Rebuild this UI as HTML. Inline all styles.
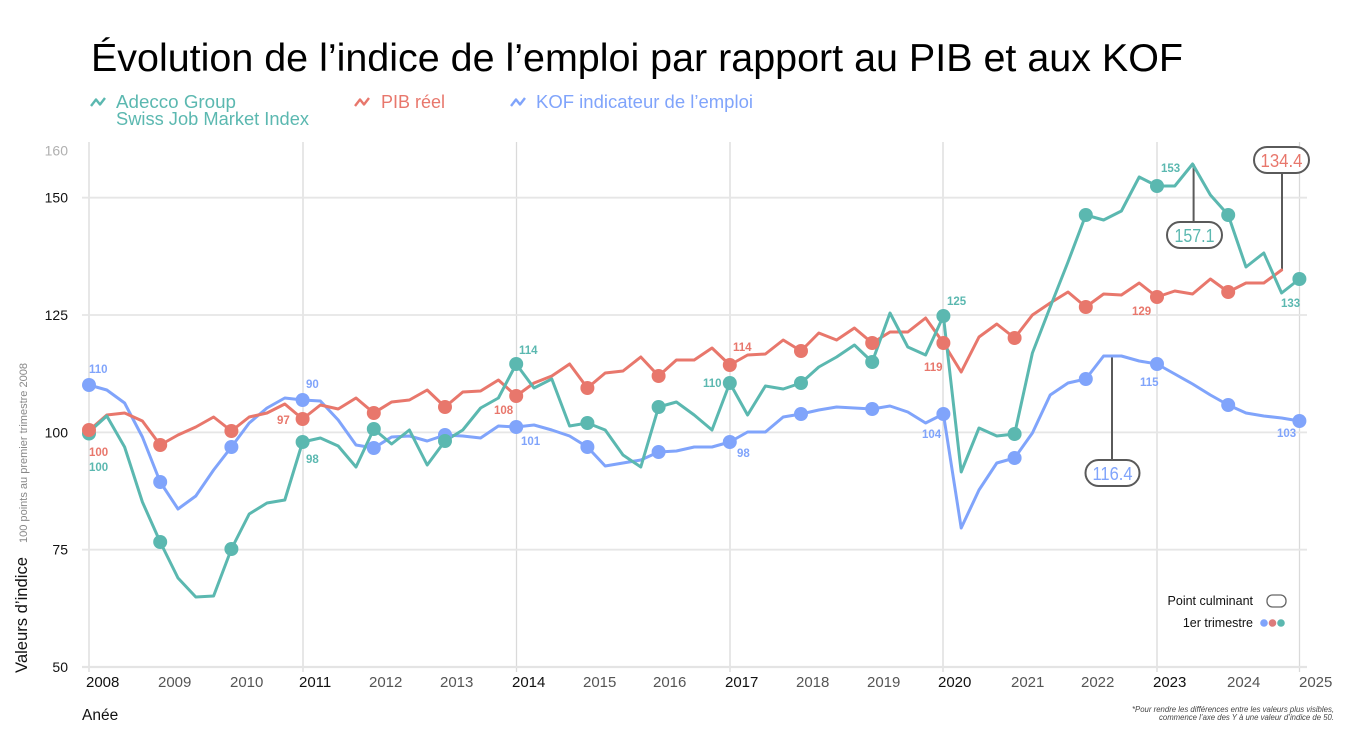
<!DOCTYPE html>
<html>
<head>
<meta charset="utf-8">
<style>
  html,body{margin:0;padding:0;background:#fff;}
  svg{display:block;font-family:"Liberation Sans",Arial,sans-serif;}
</style>
</head>
<body>
<svg width="1351" height="737" viewBox="0 0 1351 737" xmlns="http://www.w3.org/2000/svg">
  <rect width="1351" height="737" fill="#fff"/>

  <!-- Title -->
  <text x="91" y="71" font-size="39" fill="#000" textLength="1092" lengthAdjust="spacingAndGlyphs">Évolution de l’indice de l’emploi par rapport au PIB et aux KOF</text>

  <!-- Top legend -->
  <polyline points="91,106 96,99.5 100,104.5 105,98" fill="none" stroke="#5bb8b0" stroke-width="2.4" stroke-linejoin="round"/>
  <text x="116" y="108" font-size="18" fill="#5bb8b0" textLength="120" lengthAdjust="spacingAndGlyphs">Adecco Group</text>
  <text x="116" y="125" font-size="18" fill="#5bb8b0" textLength="193" lengthAdjust="spacingAndGlyphs">Swiss Job Market Index</text>
  <polyline points="355,106 360,99.5 364,104.5 369,98" fill="none" stroke="#e8776c" stroke-width="2.4" stroke-linejoin="round"/>
  <text x="381" y="108" font-size="18" fill="#e8776c" textLength="64" lengthAdjust="spacingAndGlyphs">PIB réel</text>
  <polyline points="511,106 516,99.5 520,104.5 525,98" fill="none" stroke="#80a4fb" stroke-width="2.4" stroke-linejoin="round"/>
  <text x="536" y="108" font-size="18" fill="#80a4fb" textLength="217" lengthAdjust="spacingAndGlyphs">KOF indicateur de l’emploi</text>

  <!-- Grid -->
  <g stroke="#dadada" stroke-width="1.3">
    <line x1="89" y1="142" x2="89" y2="672"/>
    <line x1="303" y1="142" x2="303" y2="672"/>
    <line x1="516.5" y1="142" x2="516.5" y2="672"/>
    <line x1="730" y1="142" x2="730" y2="672"/>
    <line x1="943" y1="142" x2="943" y2="672"/>
    <line x1="1157" y1="142" x2="1157" y2="672"/>
    <line x1="1299.5" y1="142" x2="1299.5" y2="672"/>
  </g>
  <g stroke="#e6e6e6" stroke-width="1.8">
    <line x1="82" y1="197.7" x2="1307" y2="197.7"/>
    <line x1="82" y1="315" x2="1307" y2="315"/>
    <line x1="82" y1="432.4" x2="1307" y2="432.4"/>
    <line x1="82" y1="549.7" x2="1307" y2="549.7"/>
  </g>
  <line x1="82" y1="667" x2="1307" y2="667" stroke="#e4e4e4" stroke-width="2.2"/>

  <!-- Y tick labels -->
  <g font-size="14" text-anchor="end">
    <text x="68" y="155.5" fill="#b0b0b0">160</text>
    <text x="68" y="202.7" fill="#111">150</text>
    <text x="68" y="320" fill="#111">125</text>
    <text x="68" y="437.4" fill="#111">100</text>
    <text x="68" y="554.7" fill="#111">75</text>
    <text x="68" y="672" fill="#111">50</text>
  </g>

  <!-- X tick labels -->
  <g font-size="15">
    <text x="86" y="687" fill="#111">2008</text>
    <text x="158" y="687" fill="#555">2009</text>
    <text x="230" y="687" fill="#555">2010</text>
    <text x="299" y="687" fill="#111">2011</text>
    <text x="369" y="687" fill="#555">2012</text>
    <text x="440" y="687" fill="#555">2013</text>
    <text x="512" y="687" fill="#111">2014</text>
    <text x="583" y="687" fill="#555">2015</text>
    <text x="653" y="687" fill="#555">2016</text>
    <text x="725" y="687" fill="#111">2017</text>
    <text x="796" y="687" fill="#555">2018</text>
    <text x="867" y="687" fill="#555">2019</text>
    <text x="938" y="687" fill="#111">2020</text>
    <text x="1011" y="687" fill="#555">2021</text>
    <text x="1081" y="687" fill="#555">2022</text>
    <text x="1153" y="687" fill="#111">2023</text>
    <text x="1227" y="687" fill="#555">2024</text>
    <text x="1299" y="687" fill="#555">2025</text>
  </g>
  <text x="82" y="720" font-size="15.5" fill="#111">Anée</text>

  <!-- Y axis title -->
  <text transform="translate(27,673) rotate(-90)" font-size="16.5" fill="#111" textLength="116" lengthAdjust="spacingAndGlyphs">Valeurs d’indice</text>
  <text transform="translate(27,543) rotate(-90)" font-size="11" fill="#888" textLength="180" lengthAdjust="spacingAndGlyphs">100 points au premier trimestre 2008</text>

  <!-- Callout lines -->
  <g stroke="#5a5a5a" stroke-width="2">
    <line x1="1193.6" y1="164" x2="1193.6" y2="222"/>
    <line x1="1282" y1="173" x2="1282" y2="270"/>
    <line x1="1112" y1="356" x2="1112" y2="460"/>
  </g>

  <!-- Series lines -->
  <g fill="none" stroke-width="3" stroke-linejoin="round" stroke-linecap="round">
    <polyline stroke="#80a4fb" points="89,385 106.8,390 124.6,403 142.4,437 160.2,482 178,509 195.8,496 213.6,470 231.4,447 249.2,423 267,408 284.8,398 302.6,400 320.4,401 338.2,420 356,445 373.8,448 391.6,437 409.4,436 427.2,441 445,435 462.8,436 480.6,438 498.4,426 516.2,427 534,425 551.8,430 569.6,436 587.4,447 605.2,466 623,463 640.8,460 658.6,452 676.4,451 694.2,447 712,447 729.8,442 747.6,432 765.4,432 783.2,417 801,414 818.8,410 836.6,407 854.4,408 872.2,409 890,406 907.8,412 925.6,423 943.4,414 961.2,528 979,490 996.8,463 1014.6,458 1032.4,433 1050.2,395 1068,383 1085.8,379 1103.6,356 1121.4,356 1139.2,361 1157,364 1174.8,374 1192.6,384 1210.4,395 1228.2,405 1246,413 1263.8,416 1281.6,418 1299.4,421"/>
    <polyline stroke="#e8776c" points="89,430.5 106.8,415 124.6,413 142.4,421 160.2,445 178,435 195.8,427 213.6,417 231.4,431 249.2,417 267,413 284.8,404 302.6,419 320.4,405 338.2,409 356,398 373.8,413 391.6,402 409.4,400 427.2,390 445,407 462.8,392 480.6,391 498.4,380 516.2,396 534,383 551.8,376 569.6,364 587.4,388 605.2,373 623,371 640.8,357 658.6,376 676.4,360 694.2,360 712,348 729.8,365 747.6,355 765.4,354 783.2,340 801,351 818.8,333 836.6,340 854.4,328 872.2,343 890,332 907.8,332 925.6,318 943.4,343 961.2,372 979,337 996.8,324 1014.6,338 1032.4,315 1050.2,303 1068,292 1085.8,307 1103.6,294 1121.4,295 1139.2,283 1157,297 1174.8,291 1192.6,294 1210.4,279 1228.2,292 1246,283 1263.8,283 1281.6,270"/>
    <polyline stroke="#5bb8b0" points="89,432 106.8,416 124.6,447 142.4,502 160.2,542 178,578 195.8,597 213.6,596 231.4,549 249.2,514 267,503 284.8,500 302.6,442 320.4,438 338.2,446 356,467 373.8,429 391.6,444 409.4,430 427.2,465 445,441 462.8,430 480.6,408 498.4,398 516.2,364 534,388 551.8,379 569.6,426 587.4,423 605.2,430 623,455 640.8,467 658.6,407 676.4,402 694.2,415 712,430 729.8,383 747.6,415 765.4,386 783.2,389 801,383 818.8,367 836.6,357 854.4,345 872.2,362 890,313 907.8,347 925.6,355 943.4,316 961.2,472 979,428 996.8,436 1014.6,434 1032.4,353 1050.2,307 1068,262 1085.8,215 1103.6,220 1121.4,211 1139.2,177 1157,186 1174.8,186 1192.6,164 1210.4,195 1228.2,215 1246,267 1263.8,253 1281.6,293 1299.4,279"/>
  </g>

  <!-- Dots -->
  <g fill="#80a4fb">
    <circle cx="89" cy="385" r="7"/><circle cx="160.2" cy="482" r="7"/><circle cx="231.4" cy="447" r="7"/><circle cx="302.6" cy="400" r="7"/><circle cx="373.8" cy="448" r="7"/><circle cx="445" cy="435" r="7"/><circle cx="516.2" cy="427" r="7"/><circle cx="587.4" cy="447" r="7"/><circle cx="658.6" cy="452" r="7"/><circle cx="729.8" cy="442" r="7"/><circle cx="801" cy="414" r="7"/><circle cx="872.2" cy="409" r="7"/><circle cx="943.4" cy="414" r="7"/><circle cx="1014.6" cy="458" r="7"/><circle cx="1085.8" cy="379" r="7"/><circle cx="1157" cy="364" r="7"/><circle cx="1228.2" cy="405" r="7"/><circle cx="1299.4" cy="421" r="7"/>
  </g>
  <circle cx="89" cy="433.5" r="7" fill="#5bb8b0"/>
  <g fill="#e8776c">
    <circle cx="89" cy="430" r="7"/><circle cx="160.2" cy="445" r="7"/><circle cx="231.4" cy="431" r="7"/><circle cx="302.6" cy="419" r="7"/><circle cx="373.8" cy="413" r="7"/><circle cx="445" cy="407" r="7"/><circle cx="516.2" cy="396" r="7"/><circle cx="587.4" cy="388" r="7"/><circle cx="658.6" cy="376" r="7"/><circle cx="729.8" cy="365" r="7"/><circle cx="801" cy="351" r="7"/><circle cx="872.2" cy="343" r="7"/><circle cx="943.4" cy="343" r="7"/><circle cx="1014.6" cy="338" r="7"/><circle cx="1085.8" cy="307" r="7"/><circle cx="1157" cy="297" r="7"/><circle cx="1228.2" cy="292" r="7"/>
  </g>
  <g fill="#5bb8b0">
    <circle cx="160.2" cy="542" r="7"/><circle cx="231.4" cy="549" r="7"/><circle cx="302.6" cy="442" r="7"/><circle cx="373.8" cy="429" r="7"/><circle cx="445" cy="441" r="7"/><circle cx="516.2" cy="364" r="7"/><circle cx="587.4" cy="423" r="7"/><circle cx="658.6" cy="407" r="7"/><circle cx="729.8" cy="383" r="7"/><circle cx="801" cy="383" r="7"/><circle cx="872.2" cy="362" r="7"/><circle cx="943.4" cy="316" r="7"/><circle cx="1014.6" cy="434" r="7"/><circle cx="1085.8" cy="215" r="7"/><circle cx="1157" cy="186" r="7"/><circle cx="1228.2" cy="215" r="7"/><circle cx="1299.4" cy="279" r="7"/>
  </g>

  <!-- Data labels -->
  <g font-size="11.5" font-weight="bold">
    <text x="89" y="373" fill="#80a4fb">110</text>
    <text x="89" y="456" fill="#e8776c">100</text>
    <text x="89" y="471" fill="#5bb8b0">100</text>
    <text x="306" y="388" fill="#80a4fb">90</text>
    <text x="277" y="424" fill="#e8776c">97</text>
    <text x="306" y="463" fill="#5bb8b0">98</text>
    <text x="519" y="354" fill="#5bb8b0">114</text>
    <text x="494" y="414" fill="#e8776c">108</text>
    <text x="521" y="445" fill="#80a4fb">101</text>
    <text x="733" y="351" fill="#e8776c">114</text>
    <text x="703" y="387" fill="#5bb8b0">110</text>
    <text x="737" y="457" fill="#80a4fb">98</text>
    <text x="924" y="371" fill="#e8776c">119</text>
    <text x="922" y="438" fill="#80a4fb">104</text>
    <text x="947" y="305" fill="#5bb8b0">125</text>
    <text x="1132" y="315" fill="#e8776c">129</text>
    <text x="1140" y="386" fill="#80a4fb">115</text>
    <text x="1161" y="172" fill="#5bb8b0">153</text>
    <text x="1281" y="307" fill="#5bb8b0">133</text>
    <text x="1277" y="437" fill="#80a4fb">103</text>
  </g>

  <!-- Callout boxes -->
  <g stroke="#5a5a5a" stroke-width="2" fill="#fff">
    <rect x="1167" y="222" width="55" height="26" rx="13"/>
    <rect x="1254" y="147" width="55" height="26" rx="13"/>
    <rect x="1085.5" y="460" width="54" height="26" rx="13"/>
  </g>
  <g font-size="18" text-anchor="middle">
    <text x="1194.5" y="242" fill="#5bb8b0" textLength="40" lengthAdjust="spacingAndGlyphs">157.1</text>
    <text x="1281.5" y="167" fill="#e8776c" textLength="42" lengthAdjust="spacingAndGlyphs">134.4</text>
    <text x="1112.5" y="480" fill="#80a4fb" textLength="40" lengthAdjust="spacingAndGlyphs">116.4</text>
  </g>

  <!-- Bottom-right legend -->
  <text x="1253" y="605" font-size="12.5" fill="#111" text-anchor="end">Point culminant</text>
  <rect x="1267" y="595" width="19" height="12" rx="5.5" fill="#fff" stroke="#666" stroke-width="1.3"/>
  <text x="1253" y="627" font-size="12.5" fill="#111" text-anchor="end">1er trimestre</text>
  <circle cx="1264" cy="623" r="3.8" fill="#80a4fb"/>
  <circle cx="1272.5" cy="623" r="3.8" fill="#dc7c7c"/>
  <circle cx="1281" cy="623" r="3.8" fill="#5bb8b0"/>

  <!-- Footnote -->
  <g font-size="8" font-style="italic" fill="#444" text-anchor="end">
    <text x="1334" y="712" textLength="202" lengthAdjust="spacingAndGlyphs">*Pour rendre les différences entre les valeurs plus visibles,</text>
    <text x="1334" y="720" textLength="175" lengthAdjust="spacingAndGlyphs">commence l’axe des Y à une valeur d’indice de 50.</text>
  </g>
</svg>
</body>
</html>
